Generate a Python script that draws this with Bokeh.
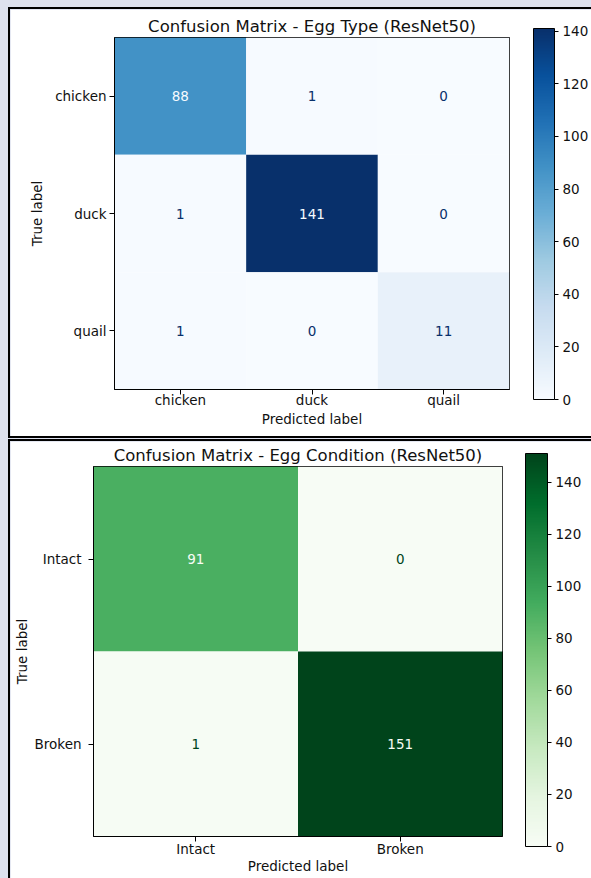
from bokeh.plotting import figure
from bokeh.models import ColumnDataSource, ColorBar, FixedTicker, LinearColorMapper
from bokeh.layouts import column
from bokeh.palettes import Blues256, Greens256
from bokeh.core.properties import value
from bokeh.embed import file_html
from bokeh.resources import INLINE

# Egg type classifier: rows are true labels, columns predicted labels
type_labels = ["chicken", "duck", "quail"]
type_counts = [
    [88, 1, 0],
    [1, 141, 0],
    [1, 0, 11],
]

# Egg condition classifier
cond_labels = ["Intact", "Broken"]
cond_counts = [
    [91, 0],
    [1, 151],
]

type_cbar_ticks = [0, 20, 40, 60, 80, 100, 120, 140]
cond_cbar_ticks = [0, 20, 40, 60, 80, 100, 120, 140]

FONT = "DejaVu Sans"
TXT = "#111111"


def matrix_panel(title, labels, counts, palette, cbar_ticks, g):
    pal = list(palette)[::-1]  # light for low counts, dark for high counts
    flat = [c for row in counts for c in row]
    vmin, vmax = min(flat), max(flat)
    mapper = LinearColorMapper(palette=pal, low=vmin, high=vmax)
    thresh = (vmax + vmin) / 2.0

    pred, true, cnt, txt, tcol = [], [], [], [], []
    for i, t in enumerate(labels):
        for j, pr in enumerate(labels):
            c = counts[i][j]
            pred.append(pr)
            true.append(t)
            cnt.append(c)
            txt.append(str(c))
            tcol.append(pal[0] if c > thresh else pal[-1])
    src = ColumnDataSource(dict(pred=pred, true=true, cnt=cnt, txt=txt, tcol=tcol))

    p = figure(
        width=g["w"], height=g["h"],
        x_range=labels, y_range=labels[::-1],
        output_backend="svg", toolbar_location=None,
        min_border_left=g["bl"], min_border_right=g["br"],
        min_border_top=g["bt"], min_border_bottom=g["bb"],
        background_fill_color="white", border_fill_color="white",
        styles=g["styles"],
    )
    p.frame_align = False
    p.margin = g["margin"]

    p.rect(x="pred", y="true", width=1, height=1, source=src,
           fill_color={"field": "cnt", "transform": mapper}, line_color=None)
    p.text(x="pred", y="true", text="txt", source=src,
           text_color="tcol", text_align="center", text_baseline="middle",
           text_font=value(FONT), text_font_size="13.5px")

    p.title.text = title
    p.title.align = "center"
    p.title.text_font = FONT
    p.title.text_font_size = "16.5px"
    p.title.text_font_style = "normal"
    p.title.text_color = TXT
    p.title.text_line_height = g["tlh"]
    p.title.standoff = g["tstand"]

    p.xgrid.visible = False
    p.ygrid.visible = False
    p.outline_line_color = "black"
    p.outline_line_width = 1

    for ax in (p.xaxis[0], p.yaxis[0]):
        ax.axis_line_color = "black"
        ax.axis_line_width = 1
        ax.major_tick_in = 0
        ax.major_tick_out = 5
        ax.major_tick_line_color = "black"
        ax.major_label_text_font = FONT
        ax.major_label_text_font_size = "13.5px"
        ax.major_label_text_color = TXT
        ax.axis_label_text_font = FONT
        ax.axis_label_text_font_size = "13.5px"
        ax.axis_label_text_font_style = "normal"
        ax.axis_label_text_color = TXT

    p.xaxis.major_label_standoff = g["xstand"]
    p.xaxis.axis_label_standoff = g["xlstand"]
    p.yaxis.major_label_standoff = g["ystand"]
    p.yaxis.axis_label_standoff = g["ylstand"]

    p.xaxis.axis_label = "Predicted label"
    p.yaxis.axis_label = "True label"

    cb = ColorBar(
        color_mapper=mapper, ticker=FixedTicker(ticks=cbar_ticks),
        width=g["cw"], height=g["ch"], location=g["cloc"],
        padding=0, margin=0,
        major_tick_in=0, major_tick_out=4, major_tick_line_color="black",
        minor_tick_line_color=None,
        bar_line_color="black", bar_line_width=1,
        border_line_color=None, background_fill_color=None,
        label_standoff=4,
        major_label_text_font=FONT, major_label_text_font_size="13.5px",
        major_label_text_color=TXT,
    )
    p.add_layout(cb)
    return p


border = "2px solid #000000"
top_geom = dict(
    w=583, h=431, bl=104, br=84, bt=28, bb=51, tstand=3, tlh=1.2,
    xstand=-3, xlstand=0, ystand=3, ylstand=7,
    cw=21, ch=371, cloc=(419, -10),
    margin=(7, 0, 0, 8),
    styles={"border-left": border, "border-top": border, "border-bottom": border},
)
bottom_geom = dict(
    w=583, h=439, bl=83, br=91, bt=25, bb=44, tstand=3, tlh=1.0,
    xstand=-1, xlstand=-2, ystand=7, ylstand=2,
    cw=22, ch=393, cloc=(432, -10),
    margin=(1, 0, 0, 8),
    styles={"border-left": border, "border-top": border},
)

p1 = matrix_panel("Confusion Matrix - Egg Type (ResNet50)", type_labels, type_counts,
                  Blues256, type_cbar_ticks, top_geom)
p2 = matrix_panel("Confusion Matrix - Egg Condition (ResNet50)", cond_labels, cond_counts,
                  Greens256, cond_cbar_ticks, bottom_geom)

page = column(p1, p2, width=591, height=878,
              styles={"background-color": "#dde1ee", "overflow": "hidden"})

open("out.html", "w").write(file_html(page, INLINE))
